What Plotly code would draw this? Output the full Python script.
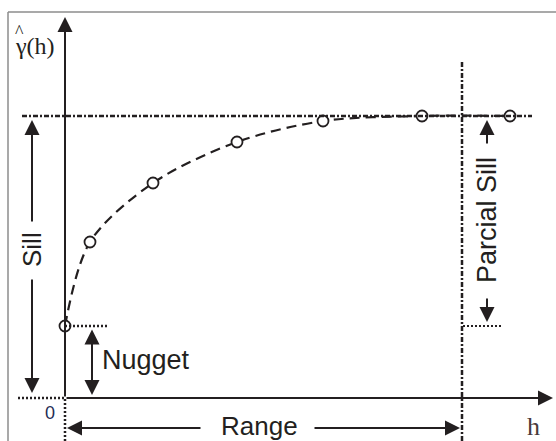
import plotly.graph_objects as go

# ---- data (schematic semivariogram, units = lag / semivariance) ----
lag_h = [0, 25, 88, 172, 258, 357, 445]
gamma_h = [72, 156, 215, 256, 277, 282, 282]
sill_value = 282
nugget_value = 72
range_value = 397

INK = "#231f20"
SANS = "Liberation Sans, Arial, sans-serif"
SERIF = "Liberation Serif, Times New Roman, serif"

fig = go.Figure()

# empirical semivariogram: dashed curve + open circles
fig.add_trace(go.Scatter(
    x=lag_h, y=gamma_h, mode="lines",
    line=dict(color=INK, width=2.2, dash="10px,6px", shape="spline", smoothing=0.9),
    hoverinfo="skip", showlegend=False))
fig.add_trace(go.Scatter(
    x=lag_h, y=gamma_h, mode="markers",
    marker=dict(symbol="circle", size=11, color="white", line=dict(color=INK, width=1.8)),
    showlegend=False))

DASHDOT = "5px,2px,2px,2px"
DOT = "2px,2px"
shapes = []
# frame (left + top)
shapes.append(dict(type="line", x0=-57, x1=-57, y0=-43, y1=386, line=dict(color="#8c8c8c", width=1.5)))
shapes.append(dict(type="line", x0=-57, x1=491, y0=386, y1=386, line=dict(color="#8c8c8c", width=1.5)))
# sill line (dash-dot)
shapes.append(dict(type="line", x0=-43, x1=467, y0=sill_value, y1=sill_value,
                   line=dict(color=INK, width=2.5, dash=DASHDOT)))
# range vertical (dash-dot)
shapes.append(dict(type="line", x0=range_value, x1=range_value, y0=-43, y1=338,
                   line=dict(color=INK, width=2.5, dash=DASHDOT)))
# dotted extensions
shapes.append(dict(type="line", x0=-47, x1=0, y0=0, y1=0, line=dict(color=INK, width=2.5, dash=DOT)))
shapes.append(dict(type="line", x0=0, x1=0, y0=-43, y1=0, line=dict(color=INK, width=2.5, dash=DOT)))
shapes.append(dict(type="line", x0=0, x1=43, y0=nugget_value, y1=nugget_value, line=dict(color=INK, width=2.5, dash=DOT)))
shapes.append(dict(type="line", x0=range_value + 1, x1=437, y0=nugget_value, y1=nugget_value, line=dict(color=INK, width=1.8, dash=DOT)))

def arrow(x_tip, y_tip, x_tail, y_tail, side="end"):
    return dict(x=x_tip, y=y_tip, ax=x_tail, ay=y_tail, xref="x", yref="y", axref="x", ayref="y",
                text="", showarrow=True, arrowhead=2, arrowsize=1.5, arrowwidth=2, arrowcolor=INK,
                arrowside=side, standoff=0, startstandoff=0)

annotations = [
    # axes
    arrow(0, 381, 0, 0),
    arrow(488, 0, 0, 0),
    # sill arrow (left)
    arrow(-33, sill_value - 4, -33, 175),
    arrow(-33, 5, -33, 120),
    # nugget arrow
    dict(x=27, y=3, ax=27, ay=nugget_value - 2, xref="x", yref="y", axref="x", ayref="y", text="",
         showarrow=True, arrowhead=2, startarrowhead=2, arrowsize=1.5, startarrowsize=1.5, arrowwidth=2,
         arrowcolor=INK, arrowside="end+start", standoff=0, startstandoff=0),
    # partial sill arrows
    arrow(422, sill_value - 4, 422, 253),
    arrow(422, nugget_value + 4, 422, 101),
    # range arrows
    arrow(2, -30, 137, -30),
    arrow(range_value - 2, -30, 248, -30),
]

def label(x, y, text, size, angle=0, font=SANS, color=INK, xanchor="center"):
    return dict(x=x, y=y, xref="x", yref="y", text=text, showarrow=False, textangle=angle,
                xanchor=xanchor, yanchor="middle", font=dict(family=font, size=size, color=color))

annotations += [
    label(35, 38, "Nugget", 27, xanchor="left"),
    label(-33, 148, "Sill", 26, angle=-90),
    label(422, 178, "Parcial Sill", 27, angle=-90),
    label(194, -28, "Range", 26),
    label(-15, -15, "0", 18, color="#1f2d55"),
    label(468, -28, "h", 26, font=SERIF, color="#4a3a3a"),
    label(-52, 352, "γ(h)", 24, font=SERIF, xanchor="left"),
    label(-46, 366, "^", 18, font=SERIF),
]

fig.update_layout(
    width=556, height=441, margin=dict(l=0, r=0, t=0, b=0),
    paper_bgcolor="white", plot_bgcolor="white",
    xaxis=dict(range=[-65, 491], visible=False, fixedrange=True),
    yaxis=dict(range=[-43, 398], visible=False, fixedrange=True),
    shapes=shapes, annotations=annotations, showlegend=False,
)

fig.write_html("out.html", config={"displayModeBar": False},
               post_script="document.body.style.margin='0';document.body.style.overflow='hidden';")
